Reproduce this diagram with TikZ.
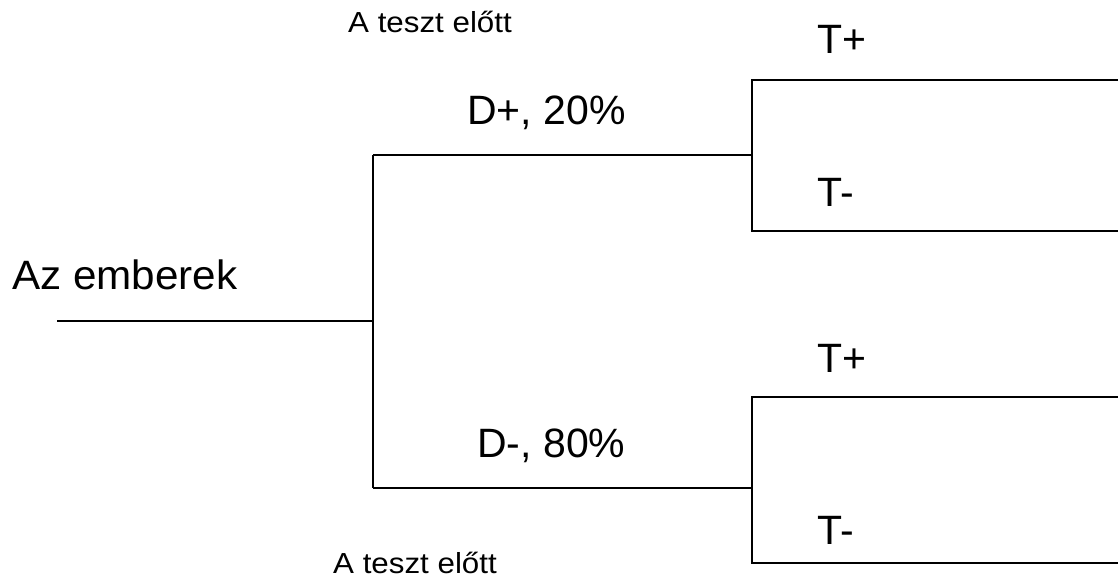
\documentclass[tikz,border=0pt]{standalone}
\usepackage{fontspec}
\setmainfont{Liberation Sans}
\begin{document}
\begin{tikzpicture}[x=1pt,y=-1pt,
  big/.style={anchor=base west,inner sep=0pt,font=\fontsize{41}{48}\selectfont},
  small/.style={anchor=base west,inner sep=0pt,font=\fontsize{29}{35}\selectfont},
  branch/.style={line width=1.5pt},
  boxline/.style={line width=2pt}]
\useasboundingbox (0,0) rectangle (1118,577);
% coordinates
\coordinate (root) at (57,321);
\coordinate (fork) at (373,321);
\coordinate (forkT) at (373,155);
\coordinate (forkB) at (373,488);
\coordinate (dp) at (752,155);
\coordinate (dm) at (752,488);
\coordinate (dpT) at (752,80);
\coordinate (dpB) at (752,231);
\coordinate (dpTR) at (1118,80);
\coordinate (dpBR) at (1118,231);
\coordinate (dmT) at (752,397);
\coordinate (dmB) at (752,563);
\coordinate (dmTR) at (1118,397);
\coordinate (dmBR) at (1118,563);
% lines
\draw[branch] (root) -- (fork);
\draw[branch] (forkT) -- (forkB);
\draw[branch] (forkT) -- (dp);
\draw[branch] (forkB) -- (dm);
\draw[boxline] (dpTR) -- (dpT) -- (dpB) -- (dpBR);
\draw[boxline] (dmTR) -- (dmT) -- (dmB) -- (dmBR);
% texts
\node[small] (t1) at (348,33) {\scalebox{1.08}[1]{A teszt előtt}};
\node[small] (t2) at (333,573) {\scalebox{1.08}[1]{A teszt előtt}};
\node[big] (az) at (12,289) {\scalebox{1.03}[1]{Az emberek}};
\node[big] (dplus) at (467,125) {D+, 20\%};
\node[big] (dminus) at (477,457) {D-, 80\%};
\node[big] (tp1) at (817,54) {T+};
\node[big] (tm1) at (817,207) {T-};
\node[big] (tp2) at (817,372) {T+};
\node[big] (tm2) at (817,544) {T-};
\end{tikzpicture}
\end{document}
